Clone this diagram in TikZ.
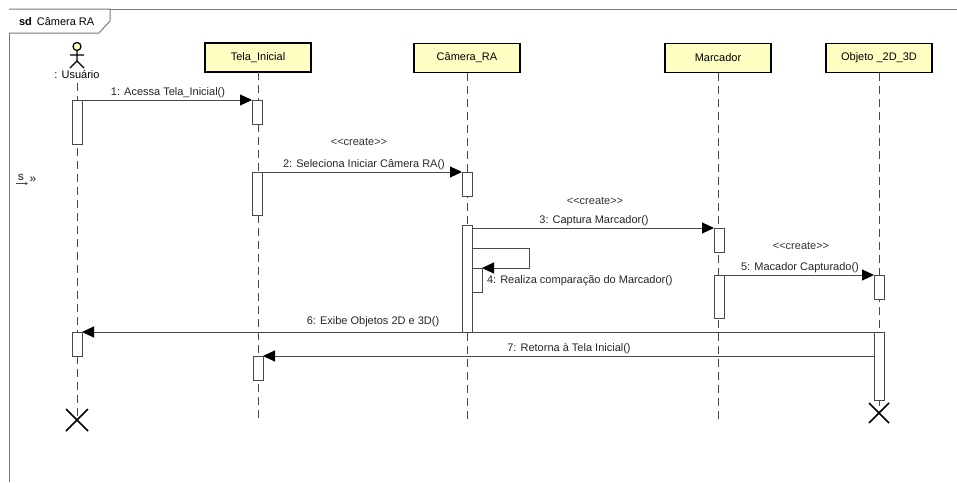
\documentclass[tikz,border=0pt]{standalone}
\usepackage{fontspec}
\setmainfont{Liberation Sans}
\usetikzlibrary{arrows.meta,calc}
\definecolor{lifefill}{HTML}{FFFFC4}
\definecolor{linegray}{HTML}{4A4A4A}
\definecolor{framegray}{HTML}{7A7A7A}
% stereotype guillemets written as plain angle brackets
\newcommand{\umlcreate}{<\kern0pt<create>\kern0pt>}
\begin{document}
\begin{tikzpicture}[x=1pt,y=-1pt,
  font=\fontsize{11}{13}\selectfont,
  every node/.style={inner sep=0pt, outer sep=0pt},
  headbox/.style={draw=black, line width=1.4pt, fill=lifefill, minimum width=106pt, minimum height=29pt},
  lifeline/.style={draw=linegray, line width=0.9pt, dash pattern=on 8pt off 5pt},
  actbar/.style={draw=linegray, line width=0.9pt, fill=white, minimum width=10pt, anchor=north},
  msg/.style={draw=linegray, line width=1pt, -{Triangle[length=12pt,width=11pt,color=black]}},
  msglabel/.style={text=black!85},
  stereo/.style={text=black!80, font=\fontsize{11}{13}\selectfont},
  destroy/.style={draw=black, line width=1.5pt}
]
\useasboundingbox[fill=white] (0,0) rectangle (957,482);

% diagram frame
\draw[framegray, line width=1pt] (957,9) -- (9,9) -- (9,482);
\draw[framegray, line width=1pt, fill=white] (9,9) -- (110,9) -- (110,21) -- (99,33) -- (9,33);
\node[anchor=west] (frametitle) at (19,21.5) {\textbf{sd}\hspace{5pt}Câmera RA};

% actor
\draw[black, line width=1.2pt, fill=lifefill] (77,46.5) circle (4pt);
\draw[black, line width=1.3pt] (77,50.5) -- (77,61) (70,55) -- (84,55) (70,68) -- (77,61) -- (84,68);
\node (usr) at (77,75) {: Usuário};

% lifeline heads
\node[headbox] (tela) at (258,57.5) {Tela\_Inicial};
\node[headbox] (cam) at (467,58) {Câmera\_RA};
\node[headbox] (marc) at (718,58) {Marcador};
\node[headbox] (obj) at (879,58) {Objeto \_2D\_3D};

% lifelines
\coordinate (uend) at (77,420);
\coordinate (tend) at (258,423);
\coordinate (cend) at (467,423);
\coordinate (mend) at (718,423);
\coordinate (oend) at (879,413);
\draw[lifeline] (77,83) -- (uend);
\draw[lifeline] (tela.south) -- (tend);
\draw[lifeline] (cam.south) -- (cend);
\draw[lifeline] (marc.south) -- (mend);
\draw[lifeline] (obj.south) -- (oend);

% activation bars
\node[actbar, minimum height=44pt] (u1) at (77,100) {};
\node[actbar, minimum height=24pt] (u2) at (77,332) {};
\node[actbar, minimum height=24pt] (t1) at (257,100) {};
\node[actbar, minimum height=43pt] (t2) at (257,172) {};
\node[actbar, minimum height=24pt] (t3) at (258,356) {};
\node[actbar, minimum height=24pt] (c1) at (467,172) {};
\node[actbar, minimum height=107pt] (c2) at (467,225) {};
\node[actbar, minimum height=24pt] (c3) at (477,268) {};
\node[actbar, minimum height=24pt] (m1) at (719,228) {};
\node[actbar, minimum height=43pt] (m2) at (719,275) {};
\node[actbar, minimum height=24pt] (o1) at (879,275) {};
\node[actbar, minimum height=68pt] (o2) at (879,332) {};

% destruction marks
\draw[destroy] ($(uend)+(-11,-11)$) -- ($(uend)+(11,11)$) ($(uend)+(-11,11)$) -- ($(uend)+(11,-11)$);
\draw[destroy] ($(oend)+(-10,-10)$) -- ($(oend)+(10,10)$) ($(oend)+(-10,10)$) -- ($(oend)+(10,-10)$);

% messages
\draw[msg] (u1.north east) -- (t1.north west);
\node[msglabel] (l1) at (168,93) {1: Acessa Tela\_Inicial()};

\node[stereo] (s2) at (359,142) {\umlcreate};
\draw[msg] (t2.north east) -- (c1.north west);
\node[msglabel] (l2) at (364,165) {2: Seleciona Iniciar Câmera RA()};

\node[stereo] (s3) at (595,201) {\umlcreate};
\draw[msg] (c2.east |- m1.north west) -- (m1.north west);
\node[msglabel] (l3) at (594,221) {3: Captura Marcador()};

\coordinate (selfa) at (529,248);
\coordinate (selfb) at (529,268);
\draw[msg] (c2.east |- selfa) -- (selfa) -- (selfb) -- (c3.north east);
\node[msglabel, anchor=west] (l4) at (487,281) {4: Realiza comparação do Marcador()};

\node[stereo] (s5) at (801,246) {\umlcreate};
\draw[msg] (m2.north east) -- (o1.north west);
\node[msglabel] (l5) at (800,268) {5: Macador Capturado()};

\draw[msg] (o2.north west) -- (u2.north east);
\node[msglabel] (l6) at (373,322) {6: Exibe Objetos 2D e 3D()};

\draw[msg] (o2.west |- t3.north east) -- (t3.north east);
\node[msglabel] (l7) at (569,349) {7: Retorna à Tela Inicial()};

% sequence marker icon
\node[text=black!75, font=\fontsize{9}{10}\selectfont\bfseries] (sicon) at (21,177) {S};
\draw[black!70, line width=0.8pt, -{Stealth[length=3pt,width=3pt]}] (16,183.5) -- (28,183.5);
\node[text=black!65, font=\fontsize{12}{12}\selectfont\bfseries] (ficon) at (33,180) {»};
\end{tikzpicture}
\end{document}
